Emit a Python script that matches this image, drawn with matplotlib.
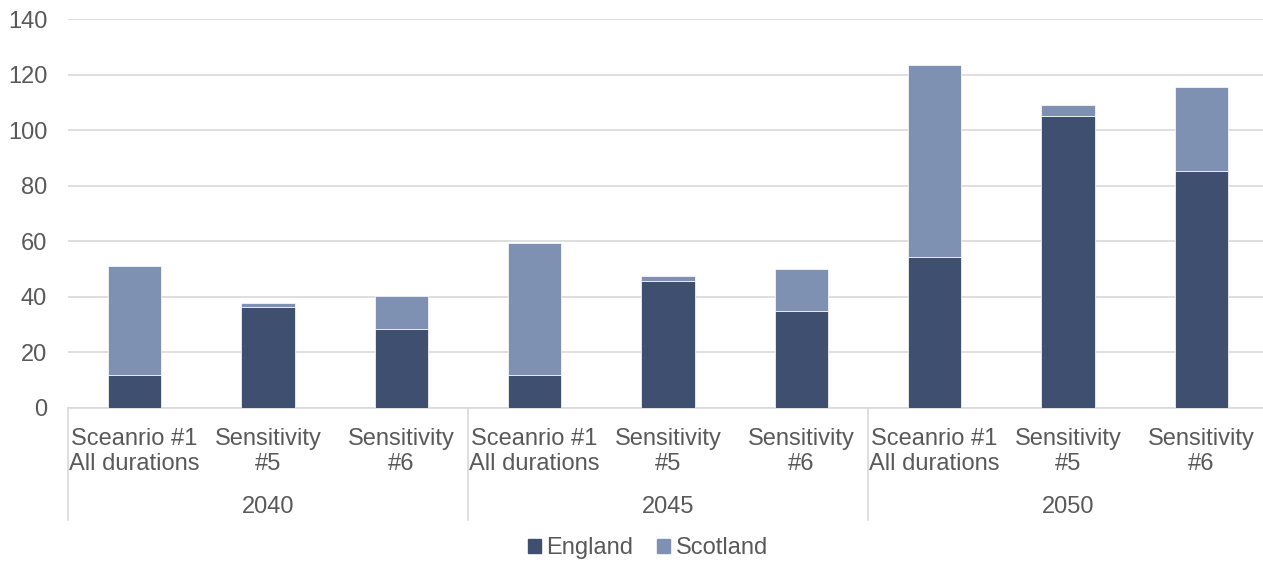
import matplotlib.pyplot as plt
import matplotlib.transforms as mtransforms
from matplotlib.patches import Patch

plt.rcParams['font.family'] = ['Liberation Sans', 'DejaVu Sans']

years = ['2040', '2045', '2050']
cases = ['Sceanrio #1\nAll durations', 'Sensitivity\n#5', 'Sensitivity\n#6']
england = [12.0, 36.4, 28.5, 12.0, 45.8, 34.9, 54.3, 105.0, 85.4]
scotland = [39.1, 1.5, 11.7, 47.5, 1.7, 15.3, 69.1, 4.2, 30.0]

c_eng = '#3f4f6f'
c_sco = '#7f91b3'
txt = '#595959'
grid = '#d9d9d9'
fs = 17

W, H = 1263, 563
fig = plt.figure(figsize=(W / 100, H / 100), dpi=100)
ax = fig.add_axes([68 / W, (H - 408) / H, 1200 / W, 389 / H])

x = list(range(len(england)))
ax.bar(x, england, width=0.4, color=c_eng, edgecolor='white', linewidth=0.5, zorder=3)
ax.bar(x, scotland, width=0.4, bottom=england, color=c_sco, edgecolor='white',
       linewidth=0.5, zorder=3)

ax.set_xlim(-0.5, 8.5)
ax.set_ylim(0, 140)
ax.set_yticks(range(0, 141, 20))
ax.yaxis.grid(True, color=grid, linewidth=1.2, zorder=0)
ax.tick_params(axis='y', length=0, pad=15, labelsize=fs, labelcolor=txt)
ax.set_xticks([])
for s in ['top', 'right', 'left']:
    ax.spines[s].set_visible(False)
ax.spines['bottom'].set_color(grid)
ax.spines['bottom'].set_linewidth(1.2)

trans = mtransforms.blended_transform_factory(ax.transData, ax.transAxes)
h = 389.0
for i in x:
    ax.text(i, -(451.5 - 408) / h, cases[i % 3], transform=trans, ha='center', va='center',
            fontsize=fs, color=txt, linespacing=1.22)
for g, yr in enumerate(years):
    ax.text(3 * g + 1, -(507 - 408) / h, yr, transform=trans, ha='center', va='center',
            fontsize=fs, color=txt)
for b in [-0.5, 2.5, 5.5, 8.5]:
    ax.plot([b, b], [0, -(520 - 408) / h], transform=trans, color=grid, linewidth=1.2,
            clip_on=False)

handles = [Patch(color=c_eng, label='England'), Patch(color=c_sco, label='Scotland')]
fig.legend(handles=handles, loc='center', bbox_to_anchor=(648 / W, 1 - 548 / H), ncol=2,
           frameon=False, fontsize=fs, handlelength=0.55, handleheight=0.55,
           handletextpad=0.25, columnspacing=1.0, labelcolor=txt)

fig.savefig('out.png', dpi=100)
